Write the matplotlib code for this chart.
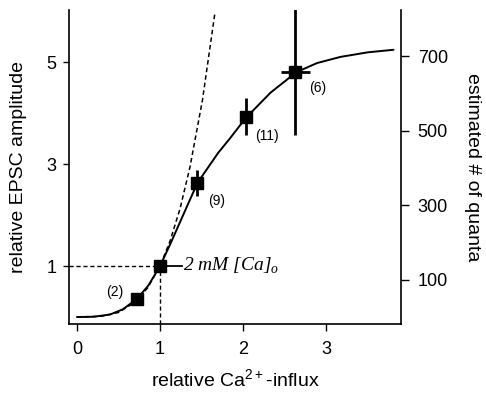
import matplotlib
matplotlib.use("Agg")
import matplotlib.pyplot as plt

plt.rcParams['font.family'] = ['Liberation Sans', 'DejaVu Sans']

# measured points
ca_influx = [0.72, 1.0, 1.45, 2.03, 2.63]
epsc_amp = [0.35, 1.0, 2.63, 3.93, 4.81]
epsc_err = [0.0, 0.0, 0.25, 0.36, 1.25]
influx_err = [0.0, 0.0, 0.05, 0.07, 0.18]
n_labels = ['(2)', '', '(9)', '(11)', '(6)']

# fitted saturating curve
fit_x = [0.0, 0.2, 0.4, 0.55, 0.72, 0.86, 1.0, 1.12, 1.24, 1.45, 1.70, 1.84,
         2.03, 2.33, 2.64, 2.89, 3.17, 3.50, 3.81]
fit_y = [0.0, 0.005, 0.05, 0.15, 0.35, 0.62, 1.0, 1.42, 1.86, 2.63, 3.22, 3.50,
         3.90, 4.40, 4.80, 4.98, 5.10, 5.19, 5.24]

# power-law curve (dashed)
pow_x = [0.0, 0.3, 0.5, 0.7, 0.85, 1.0, 1.12, 1.24, 1.36, 1.51, 1.66]
pow_y = [0.0, 0.015, 0.09, 0.29, 0.57, 1.0, 1.49, 2.12, 2.94, 4.25, 5.96]

quanta_per_unit = 137.0
left_ticks = [1, 3, 5]
right_ticks = [100, 300, 500, 700]
x_ticks = [0, 1, 2, 3]

fig = plt.figure(figsize=(4.86, 3.93), dpi=100)
ax = fig.add_axes([69/486, 1-324/393, (401-69)/486, (324-10)/393])
xlim = (-0.096, 3.90)
ylim = (-0.137, 6.02)
ax.set_xlim(*xlim)
ax.set_ylim(*ylim)

# reference dashed lines
ax.plot([xlim[0], 1.0], [1.0, 1.0], ls=(0, (3, 2)), color='black', lw=1.0)
ax.plot([1.0, 1.0], [ylim[0], 1.0], ls=(0, (3, 2)), color='black', lw=1.0)

ax.plot(pow_x, pow_y, ls=(0, (3, 2)), color='black', lw=1.1)
ax.plot(fit_x, fit_y, color='black', lw=1.4, solid_capstyle='round',
        solid_joinstyle='round')

# annotation line and text
ax.plot([1.0, 1.27], [1.0, 1.0], color='black', lw=1.3)
ax.text(1.28, 1.0, '2 mM [Ca]$_{\\mathregular{o}}$', fontfamily='Liberation Serif',
        style='italic', fontsize=14, va='center', ha='left')

ax.errorbar(ca_influx, epsc_amp, yerr=epsc_err, xerr=influx_err, fmt='s',
            color='black', ms=8, elinewidth=2.0, capsize=0, clip_on=True)

offsets = [(-16, 5), (0, 0), (14, -13), (15, -14), (16, -12)]
for xv, yv, lab, off in zip(ca_influx, epsc_amp, n_labels, offsets):
    if lab:
        ax.annotate(lab, (xv, yv), xytext=off, textcoords='offset points',
                    ha='center', va='center', fontsize=10)

ax.spines['top'].set_visible(False)
ax.spines['right'].set_visible(False)
ax.set_xticks(x_ticks)
ax.set_yticks(left_ticks)
ax.tick_params(axis='x', direction='out', length=5, width=1, labelsize=13, pad=7)
ax.tick_params(axis='y', direction='out', length=4, width=1, labelsize=13, pad=5)
ax.set_xlabel('relative Ca$^{\\mathregular{2+}}$-influx', fontsize=14, labelpad=8)
ax.set_ylabel('relative EPSC amplitude', fontsize=14, labelpad=14)

ax2 = ax.twinx()
ax2.set_ylim(ylim[0]*quanta_per_unit, ylim[1]*quanta_per_unit)
ax2.set_yticks(right_ticks)
ax2.spines['top'].set_visible(False)
ax2.spines['left'].set_visible(False)
ax2.spines['bottom'].set_visible(False)
ax2.tick_params(axis='y', direction='out', length=6, width=1, labelsize=13, pad=6)
ax2.set_ylabel('estimated # of quanta', fontsize=14, rotation=270, labelpad=24)

for a in (ax, ax2):
    for s in a.spines.values():
        s.set_linewidth(1.2)

fig.savefig('out.png', dpi=100)
